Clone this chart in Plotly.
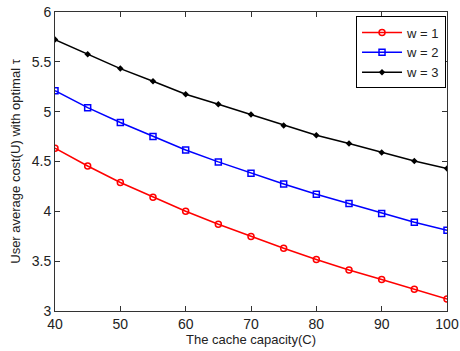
import plotly.graph_objects as go

capacity = [40, 45, 50, 55, 60, 65, 70, 75, 80, 85, 90, 95, 100]
w1 = [4.633, 4.455, 4.289, 4.141, 4.001, 3.870, 3.747, 3.630, 3.517, 3.412, 3.316, 3.219, 3.121]
w2 = [5.211, 5.040, 4.891, 4.750, 4.616, 4.496, 4.382, 4.275, 4.172, 4.078, 3.978, 3.891, 3.810]
w3 = [5.723, 5.576, 5.432, 5.305, 5.175, 5.074, 4.971, 4.861, 4.763, 4.680, 4.590, 4.506, 4.429]
x_ticks = [40, 50, 60, 70, 80, 90, 100]
y_ticks = [3, 3.5, 4, 4.5, 5, 5.5, 6]
y_ticklabels = ["3", "3.5", "4", "4.5", "5", "5.5", "6"]

FONT = "Liberation Sans, Arial"
TXT = "#222222"

fig = go.Figure()
fig.add_trace(go.Scatter(x=capacity, y=w1, mode="lines+markers", name="w = 1",
                         line=dict(color="red", width=1.5),
                         marker=dict(symbol="circle-open", size=6, color="red", line=dict(width=1.5))))
fig.add_trace(go.Scatter(x=capacity, y=w2, mode="lines+markers", name="w = 2",
                         line=dict(color="blue", width=1.5),
                         marker=dict(symbol="square-open", size=6, color="blue", line=dict(width=1.5))))
fig.add_trace(go.Scatter(x=capacity, y=w3, mode="lines+markers", name="w = 3",
                         line=dict(color="black", width=1.5),
                         marker=dict(symbol="diamond", size=5, color="black")))

axis_common = dict(showgrid=False, zeroline=False, showline=True, linecolor="#333333", linewidth=1,
                   mirror="ticks", ticks="inside", ticklen=5, tickcolor="#333333", automargin=False,
                   tickfont=dict(family=FONT, size=14, color=TXT))

fig.update_xaxes(range=[40, 100], tickvals=x_ticks,
                 title=dict(text="The cache capacity(C)", font=dict(family=FONT, size=13, color=TXT), standoff=1),
                 **axis_common)
fig.update_yaxes(range=[3, 6], tickvals=y_ticks, ticktext=y_ticklabels,
                 title=dict(text="User average cost(U) with optimal τ", font=dict(family=FONT, size=13, color=TXT), standoff=8),
                 **axis_common)

fig.update_layout(
    width=460, height=351,
    margin=dict(l=55, r=13, t=12, b=40),
    plot_bgcolor="white", paper_bgcolor="white",
    font=dict(family=FONT, size=14, color=TXT),
    legend=dict(x=0.9975, y=0.985, xanchor="right", yanchor="top",
                bgcolor="white", bordercolor="black", borderwidth=1,
                font=dict(family=FONT, size=13, color=TXT),
                itemwidth=40, tracegroupgap=0),
    showlegend=True,
)

fig.write_html("out.html")
